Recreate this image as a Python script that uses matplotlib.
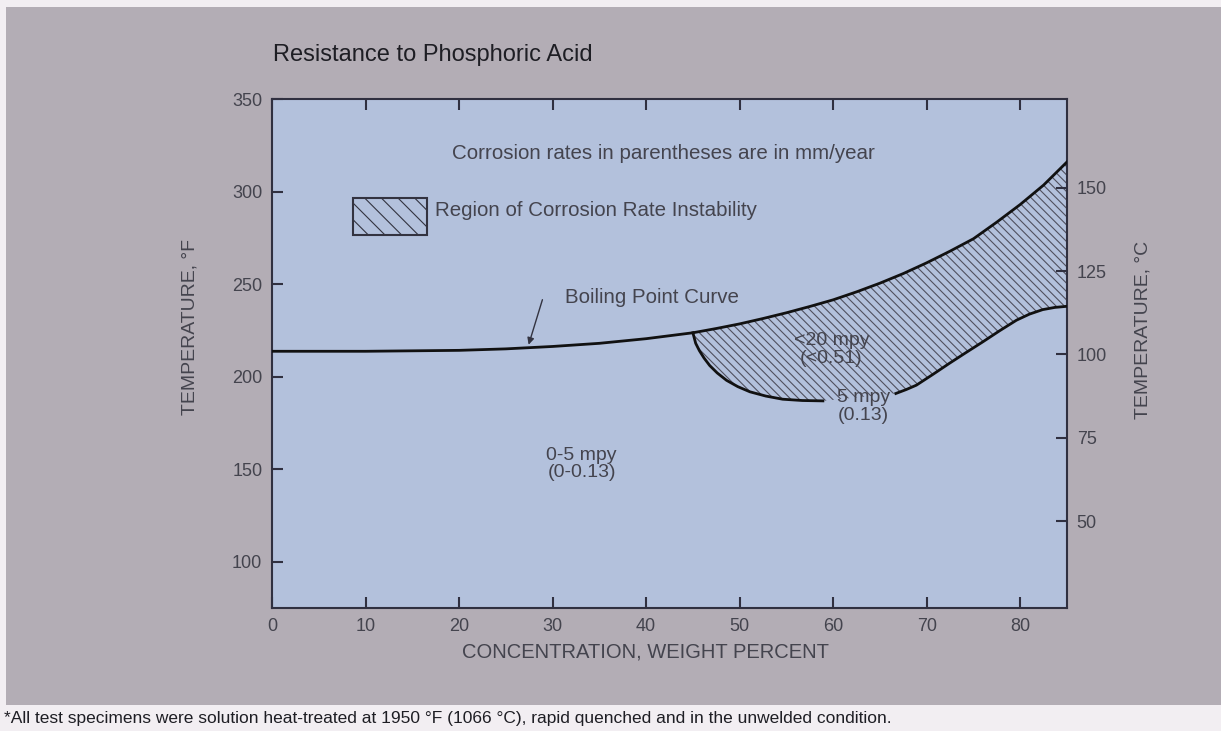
import numpy as np
import matplotlib
matplotlib.use('Agg')
import matplotlib.pyplot as plt
from matplotlib.patches import Polygon, Rectangle

plt.rcParams['font.family'] = ['Liberation Sans', 'DejaVu Sans']
plt.rcParams['hatch.linewidth'] = 0.8

# boiling point curve, temperature in F vs concentration (wt %)
boil_conc = [0, 10, 20, 25, 30, 35, 40, 45, 47.5, 50, 52.5, 55, 57.5, 60, 62.5,
             65, 67.5, 70, 72.5, 75, 77.5, 80, 82.5, 85]
boil_temp = [213.7, 213.7, 214.2, 215, 216.3, 218, 220.5, 223.7, 226, 228.5,
             231.4, 234.5, 237.9, 241.5, 245.8, 250.5, 255.7, 261.5, 267.8,
             274.5, 283.5, 293, 303.5, 316]

# 5 mpy boundary (lower edge of instability region), split around its label
low_left_conc = [45.0, 45.3, 45.7, 46.2, 46.8, 47.6, 48.6, 49.8, 51.1, 52.8,
                 54.6, 56.7, 58.9]
low_left_temp = [223.7, 218, 214, 210, 206, 202, 198, 194.6, 191.8, 189.5,
                 187.8, 187.1, 186.9]
low_right_conc = [66.7, 67.8, 68.9, 70.6, 72.4, 74.2, 76.0, 77.8, 79.6, 81.0,
                  82.4, 83.7, 85.0]
low_right_temp = [190.9, 193, 195.4, 201, 207.1, 213, 218.8, 224.8, 230.5,
                  233.8, 236.2, 237.4, 238.0]

x_ticks = [0, 10, 20, 30, 40, 50, 60, 70, 80]
f_ticks = [100, 150, 200, 250, 300, 350]
c_ticks = [50, 75, 100, 125, 150]

gray = '#b3adb5'
plot_bg = '#b3c1dc'
txt = '#44444e'

fig = plt.figure(figsize=(12.21, 7.31), dpi=100, facecolor='#f2eef2')
# gray card behind the chart
fig.patches.append(Rectangle((6 / 1221, 1 - 705 / 731), 1, (705 - 7) / 731,
                             transform=fig.transFigure, facecolor=gray,
                             edgecolor='none', zorder=-5))

ax = fig.add_axes([272 / 1221, 1 - 608 / 731, (1067 - 272) / 1221, (608 - 99) / 731])
ax.set_facecolor(plot_bg)
ax.set_xlim(0, 85)
ax.set_ylim(75, 350)

# instability region (hatched)
upper = [(c, t) for c, t in zip(boil_conc, boil_temp) if c >= 45]
lower = list(zip(low_left_conc, low_left_temp)) + list(zip(low_right_conc, low_right_temp))
verts = lower + upper[::-1]
ax.add_patch(Polygon(verts, closed=True, facecolor='none', edgecolor='#50505e',
                     lw=0, hatch='\\\\\\\\', zorder=2))

ax.plot(boil_conc, boil_temp, color='#111111', lw=2, zorder=3)
ax.plot(low_left_conc, low_left_temp, color='#111111', lw=2, zorder=3)
ax.plot(low_right_conc, low_right_temp, color='#111111', lw=2, zorder=3)

# legend swatch
ax.add_patch(Rectangle((8.65, 276.5), 7.9, 20, facecolor='none', edgecolor='#333340',
                       lw=1.5, hatch='\\\\', zorder=3))
ax.text(17.4, 290, 'Region of Corrosion Rate Instability', fontsize=14.8, color=txt,
        va='center', ha='left')

ax.text(41.9, 320.8, 'Corrosion rates in parentheses are in mm/year', fontsize=14.8,
        color=txt, ha='center', va='center')

ax.text(31.3, 243, 'Boiling Point Curve', fontsize=14.8, color=txt, ha='left', va='center')
ax.annotate('', xy=(27.35, 215.8), xytext=(29.0, 243),
            arrowprops=dict(arrowstyle='-|>', lw=1, color='#333340', mutation_scale=10))

ax.text(59.8, 214.6, '<20 mpy\n(<0.51)', fontsize=14, color=txt, ha='center',
        va='center', linespacing=1.05, zorder=4)
ax.text(63.2, 183.8, '5 mpy\n(0.13)', fontsize=14, color=txt, ha='center',
        va='center', linespacing=1.05, zorder=4)
ax.text(33.1, 152.8, '0-5 mpy\n(0-0.13)', fontsize=14, color=txt, ha='center',
        va='center', linespacing=1.05)

ax.set_xticks(x_ticks)
ax.set_yticks(f_ticks)
ax.tick_params(direction='in', length=8, width=1.5, color='#303040', labelsize=13,
               labelcolor=txt, top=True, pad=7)
for s in ax.spines.values():
    s.set_color('#303040')
    s.set_linewidth(1.5)

ax2 = ax.twinx()
ax2.set_ylim((75 - 32) / 1.8, (350 - 32) / 1.8)
ax2.set_yticks(c_ticks)
ax2.tick_params(direction='in', length=8, width=1.5, color='#303040', labelsize=13,
                labelcolor=txt, pad=7)
for s in ax2.spines.values():
    s.set_visible(False)

fig.text(273 / 1221, 1 - 55 / 731, 'Resistance to Phosphoric Acid', fontsize=17,
         color='#1e1e24', ha='left', va='center')
fig.text(646 / 1221, 1 - 652 / 731, 'CONCENTRATION, WEIGHT PERCENT', fontsize=14.5,
         color=txt, ha='center', va='center')
fig.text(190 / 1221, 1 - 327 / 731, 'TEMPERATURE, °F', fontsize=14, color=txt,
         ha='center', va='center', rotation=90)
fig.text(1143 / 1221, 1 - 330 / 731, 'TEMPERATURE, °C', fontsize=14, color=txt,
         ha='center', va='center', rotation=90)
fig.text(4 / 1221, 1 - 718 / 731,
         '*All test specimens were solution heat-treated at 1950 °F (1066 °C), '
         'rapid quenched and in the unwelded condition.',
         fontsize=12.5, color='#1e1e24', ha='left', va='center')

fig.savefig('out.png', dpi=100, facecolor=fig.get_facecolor())
